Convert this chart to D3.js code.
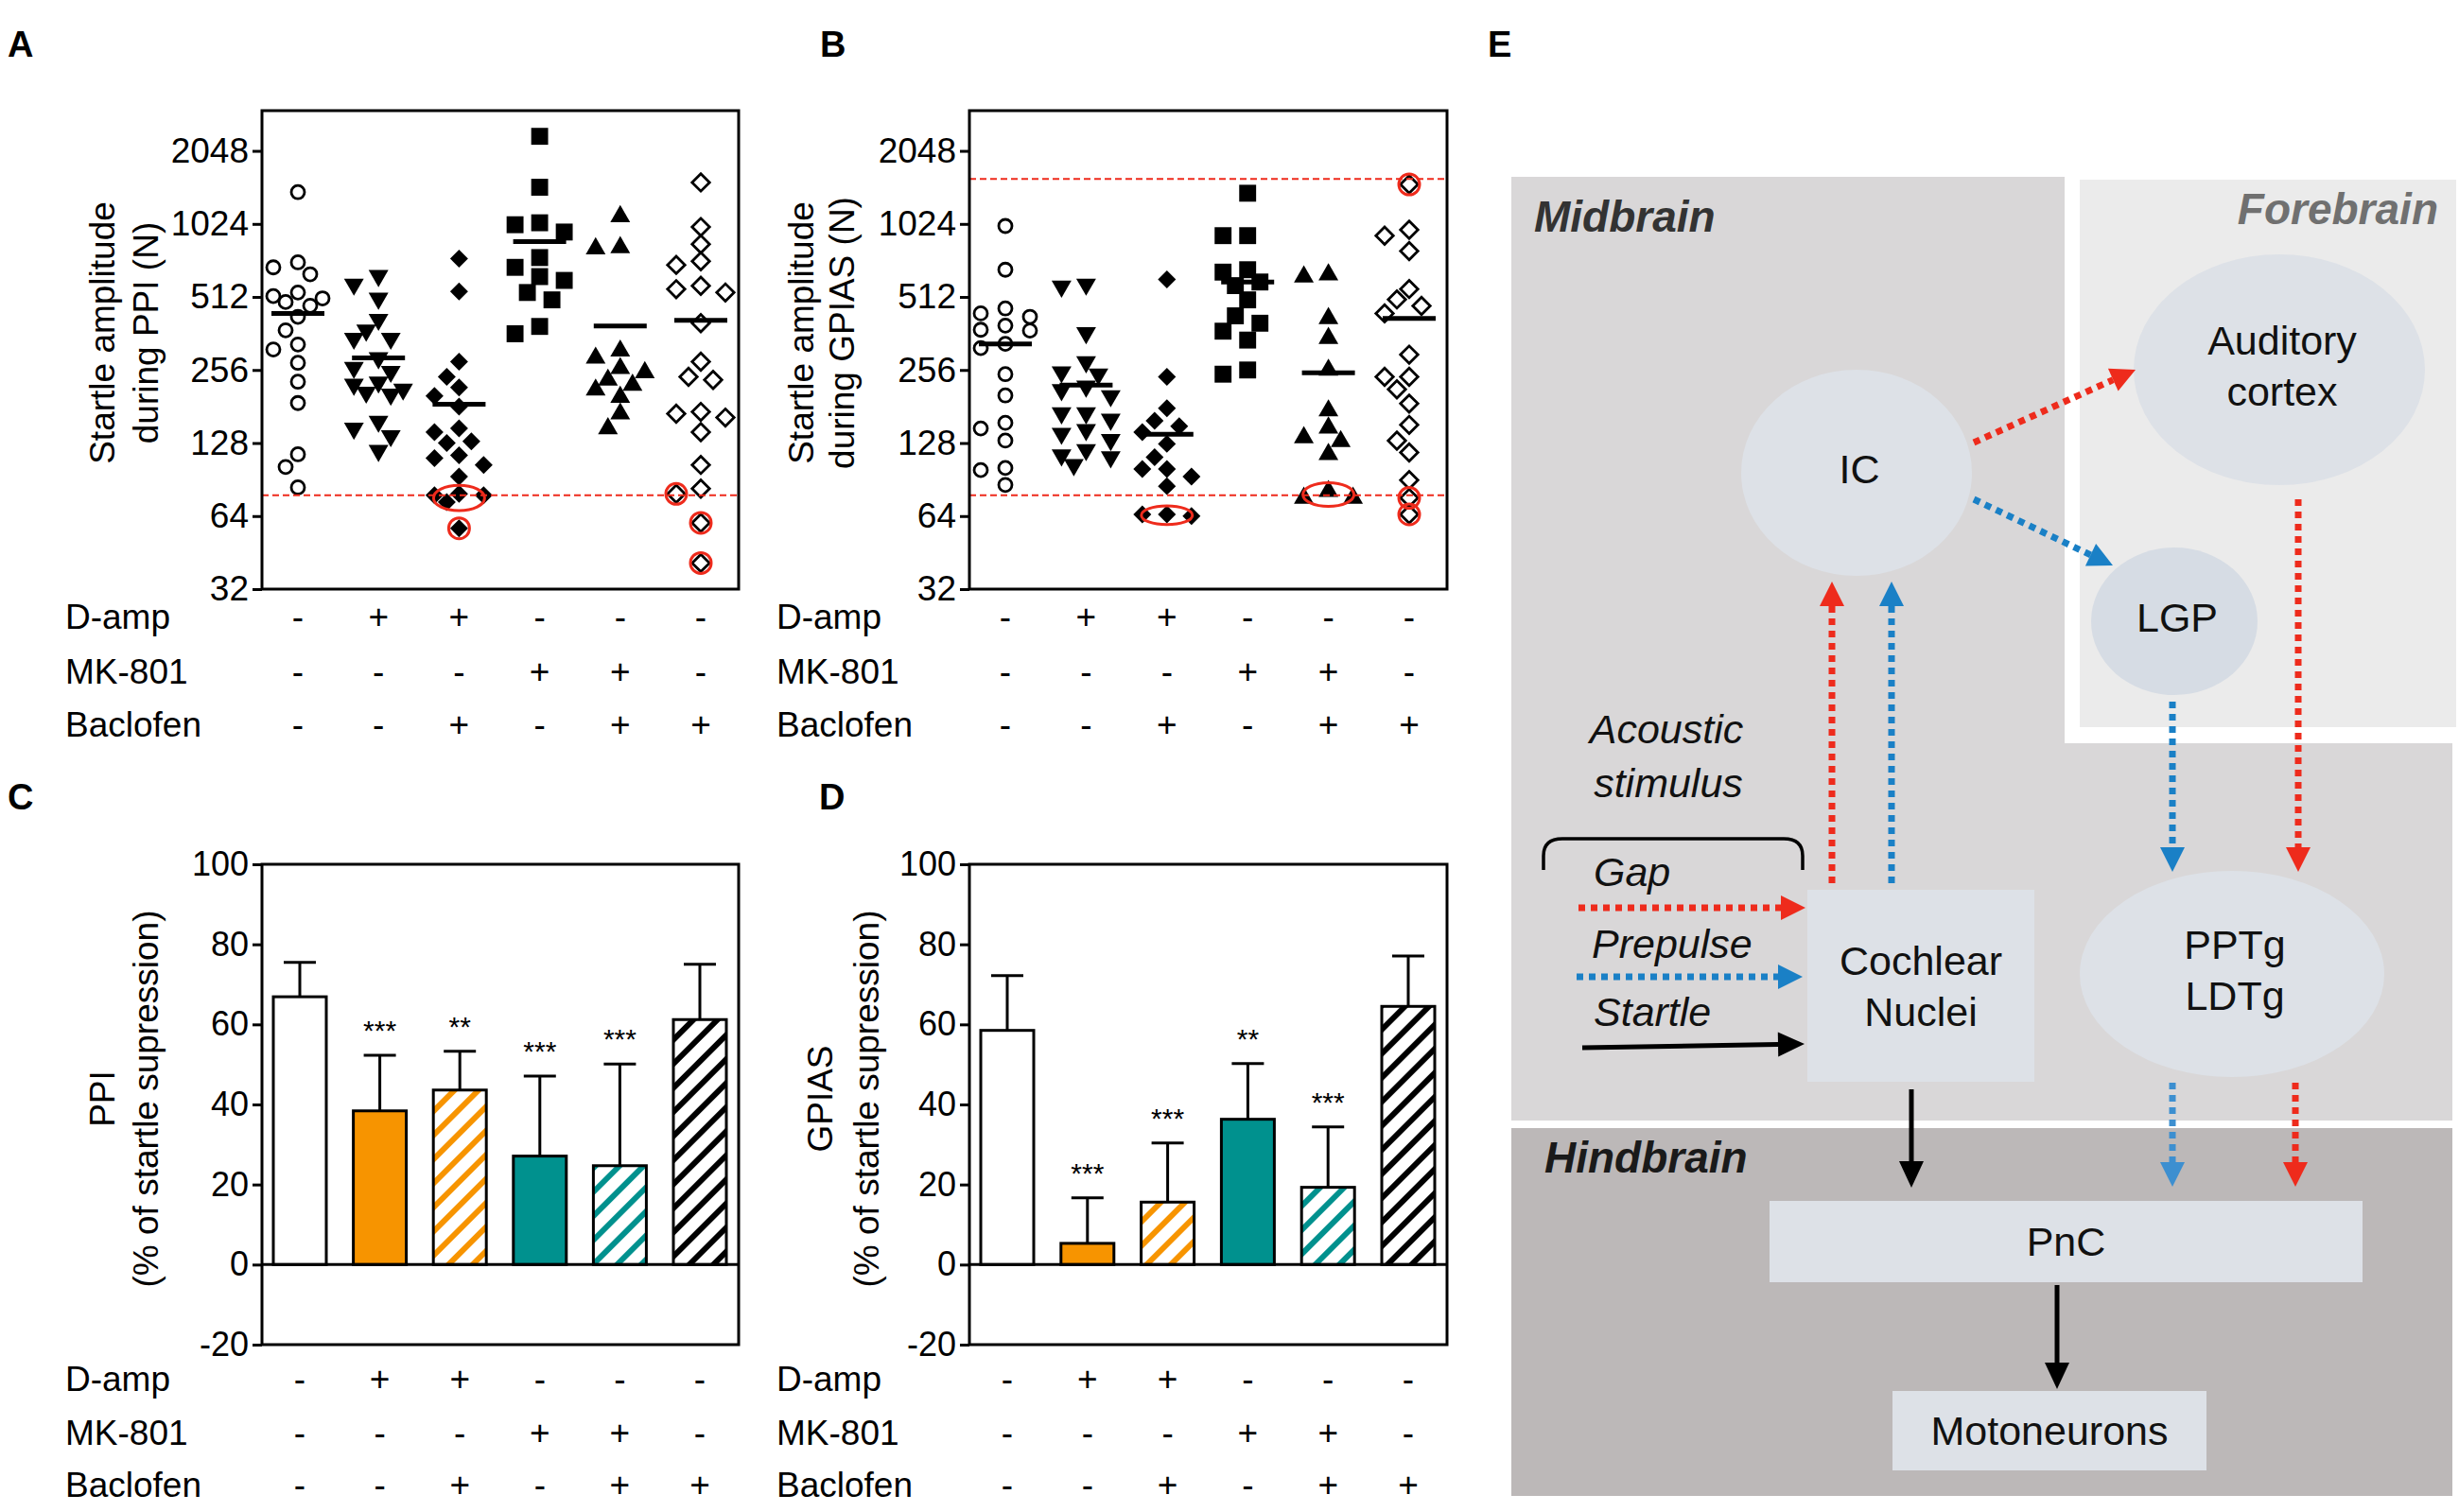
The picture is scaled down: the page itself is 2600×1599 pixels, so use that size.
<!DOCTYPE html>
<html>
<head>
<meta charset="utf-8">
<script src="https://cdn.jsdelivr.net/npm/d3@7"></script>
<style>
  body { margin: 0; background: #fff; }
  svg { font-family: "Liberation Sans", Arial, sans-serif; }
</style>
</head>
<body>
<svg id="fig" width="2600" height="1599"></svg>
<script>
// ---- data ----
const groups = ["ctrl", "damp", "dampBac", "mk", "mkBac", "bac"];
const dAmpRow = ["-", "+", "+", "-", "-", "-"];
const mk801Row = ["-", "-", "-", "+", "+", "-"];
const baclofenRow = ["-", "-", "+", "-", "+", "+"];
const logTicks = [32, 64, 128, 256, 512, 1024, 2048];
const pctTicks = [-20, 0, 20, 40, 60, 80, 100];

// startle amplitude (N) per animal, panel A
const ppiStartle = [
  [1384, 711, 678, 635, 534, 505, 516, 471, 488, 424, 373, 326, 311, 274, 229, 187, 115, 102, 84],
  [626, 577, 505, 413, 373, 345, 345, 287, 262, 252, 228, 223, 213, 207, 203, 157, 147, 137, 119],
  [737, 539, 277, 240, 217, 200, 181, 147, 142, 130, 128, 114, 111, 104, 93, 79, 78, 78, 73, 57],
  [2351, 1450, 1016, 1035, 948, 744, 678, 621, 599, 534, 498, 361, 387],
  [1099, 819, 810, 307, 287, 260, 233, 250, 212, 222, 198, 169, 147],
  [1518, 994, 845, 719, 694, 551, 569, 534, 399, 277, 240, 233, 172, 169, 163, 142, 104, 83, 79, 60, 41]
];
const ppiMean = [438, 287, 185, 866, 389, 410];
const ppiLimits = [78];
// [group index, low value, high value] of red-circled animals
const ppiCircled = [[2, 73, 79], [2, 57, 57], [5, 79, 79], [5, 60, 60], [5, 41, 41]];

// startle amplitude (N) per animal, panel B
const gpiasStartle = [
  [1004, 663, 459, 438, 424, 372, 390, 375, 328, 315, 246, 201, 155, 147, 131, 101, 99, 86],
  [577, 566, 364, 276, 251, 246, 219, 212, 200, 170, 170, 160, 145, 140, 132, 120, 112, 114, 104],
  [605, 240, 178, 158, 150, 142, 127, 112, 100, 100, 93, 85, 65, 65, 64],
  [1370, 916, 916, 663, 648, 590, 570, 498, 428, 399, 370, 340, 246, 256],
  [633, 620, 418, 346, 256, 174, 148, 135, 130, 115, 81, 76, 76],
  [1489, 968, 916, 791, 552, 500, 470, 438, 296, 240, 240, 213, 186, 152, 131, 117, 90, 76, 65]
];
const gpiasMean = [328, 222, 139, 590, 249, 418];
const gpiasLimits = [78, 1570];
const gpiasCircled = [[2, 63, 67], [4, 75, 82], [5, 1489, 1489], [5, 76, 76], [5, 65, 65]];

// % of startle suppression, panels C and D
const ppiPct = [66.9, 38.4, 43.6, 27.1, 24.7, 61.2];
const ppiErr = [8.6, 13.9, 9.7, 20.0, 25.4, 13.8];
const ppiStars = ["", "***", "**", "***", "***", ""];
const gpiasPct = [58.5, 5.3, 15.6, 36.3, 19.3, 64.5];
const gpiasErr = [13.7, 11.4, 14.8, 13.9, 15.1, 12.6];
const gpiasStars = ["", "***", "***", "**", "***", ""];

const orange = "#f79400", teal = "#00918e", red = "#ee2b1c", blue = "#1a80c6";
const barStyle = [
  { fill: "#fff" }, { fill: orange }, { hatch: orange },
  { fill: teal }, { hatch: teal }, { hatch: "#000" }
];
const markerType = ["openCircle", "triDown", "diamond", "square", "triUp", "openDiamond"];

const svg = d3.select("#fig");
const defs = svg.append("defs");

barStyle.forEach((s, i) => {
  if (!s.hatch) return;
  const p = defs.append("pattern")
    .attr("id", "hatch" + i)
    .attr("patternUnits", "userSpaceOnUse")
    .attr("width", 18).attr("height", 18)
    .attr("patternTransform", "rotate(45)");
  p.append("rect").attr("width", 18).attr("height", 18).attr("fill", "#fff");
  p.append("rect").attr("width", 6).attr("height", 18).attr("fill", s.hatch);
});

function letter(t, x, y) {
  svg.append("text").attr("x", x).attr("y", y)
    .attr("font-size", 38).attr("font-weight", "bold").text(t);
}

function treatmentRows(x, labelX, rowY) {
  const rows = [["D-amp", dAmpRow], ["MK-801", mk801Row], ["Baclofen", baclofenRow]];
  rows.forEach(([name, signs], r) => {
    svg.append("text").attr("x", labelX).attr("y", rowY[r])
      .attr("dy", "0.35em").attr("font-size", 37).text(name);
    svg.append("g").selectAll("text").data(groups).join("text")
      .attr("x", d => x(d)).attr("y", rowY[r])
      .attr("dy", "0.35em").attr("text-anchor", "middle")
      .attr("font-size", 37)
      .text((d, i) => signs[i]);
  });
}

function yTitle(lines, xs, cy) {
  lines.forEach((t, i) => {
    svg.append("text")
      .attr("transform", `translate(${xs[i]},${cy}) rotate(-90)`)
      .attr("text-anchor", "middle").attr("dy", "0.35em")
      .attr("font-size", 37).text(t);
  });
}

function styleAxis(g, size) {
  g.select(".domain").remove();
  g.selectAll(".tick line").attr("stroke-width", 3);
  g.selectAll(".tick text").attr("font-size", size)
    .attr("font-family", "Liberation Sans, Arial, sans-serif").attr("fill", "#000");
}

function drawMarker(g, type, cx, cy) {
  if (type === "openCircle") {
    g.append("circle").attr("cx", cx).attr("cy", cy).attr("r", 7)
      .attr("fill", "none").attr("stroke", "#000").attr("stroke-width", 2.8);
    return;
  }
  let sym, rot = 0, fill = "#000", stroke = "none";
  if (type === "triDown") { sym = d3.symbol(d3.symbolTriangle, 190); rot = 180; }
  if (type === "triUp") { sym = d3.symbol(d3.symbolTriangle, 190); }
  if (type === "square") { sym = d3.symbol(d3.symbolSquare, 320); }
  if (type === "diamond") { sym = d3.symbol(d3.symbolSquare, 180); rot = 45; }
  if (type === "openDiamond") { sym = d3.symbol(d3.symbolSquare, 170); rot = 45; fill = "none"; stroke = "#000"; }
  g.append("path").attr("d", sym())
    .attr("transform", `translate(${cx},${cy}) rotate(${rot})`)
    .attr("fill", fill).attr("stroke", stroke).attr("stroke-width", 2.8);
}

// simple dodge so that animals with similar values sit side by side
function swarm(vals, cx, y) {
  const step = 13, minD = 17;
  const placed = [];
  vals.map((v, i) => ({ v, i })).sort((a, b) => b.v - a.v).forEach(p => {
    const py = y(p.v);
    const offs = [0, -step, step, -2 * step, 2 * step];
    let best = null, bestD = -1;
    for (const o of offs) {
      const d = d3.min(placed, q => Math.hypot(q.x - (cx + o), q.y - py));
      const dd = d === undefined ? Infinity : d;
      if (dd >= minD) { best = o; break; }
      if (dd > bestD) { bestD = dd; best = o; }
    }
    placed.push({ v: p.v, x: cx + best, y: py });
  });
  return placed;
}

function scatterPanel(o) {
  const x = d3.scalePoint().domain(groups).range([o.x0 + 38, o.x1 - 40]);
  const y = d3.scaleLog().base(2).domain([32, 3000]).range([o.y1, o.y0]);
  const g = svg.append("g");

  o.values.forEach((vals, gi) => {
    const pts = swarm(vals, x(groups[gi]), y);
    pts.forEach(p => drawMarker(g, markerType[gi], p.x, p.y));
    g.append("line")
      .attr("x1", x(groups[gi]) - 28).attr("x2", x(groups[gi]) + 28)
      .attr("y1", y(o.means[gi])).attr("y2", y(o.means[gi]))
      .attr("stroke", "#000").attr("stroke-width", 5);
    o.circled.filter(c => c[0] === gi).forEach(c => {
      const sel = pts.filter(p => p.v >= c[1] && p.v <= c[2]);
      const [xa, xb] = d3.extent(sel, p => p.x);
      const [ya, yb] = d3.extent(sel, p => p.y);
      if (sel.length === 1) {
        g.append("circle").attr("cx", xa).attr("cy", ya).attr("r", 11)
          .attr("fill", "none").attr("stroke", red).attr("stroke-width", 3);
      } else {
        g.append("ellipse").attr("cx", (xa + xb) / 2).attr("cy", (ya + yb) / 2)
          .attr("rx", Math.min((xb - xa) / 2 + 10, 27)).attr("ry", (yb - ya) / 2 + 9)
          .attr("fill", "none").attr("stroke", red).attr("stroke-width", 3);
      }
    });
  });

  o.limits.forEach(l => {
    svg.append("line").attr("x1", o.x0).attr("x2", o.x1)
      .attr("y1", y(l)).attr("y2", y(l))
      .attr("stroke", red).attr("stroke-width", 2).attr("stroke-dasharray", "7,4");
  });

  svg.append("rect").attr("x", o.x0).attr("y", o.y0)
    .attr("width", o.x1 - o.x0).attr("height", o.y1 - o.y0)
    .attr("fill", "none").attr("stroke", "#000").attr("stroke-width", 3);

  svg.append("g").attr("transform", `translate(${o.x0},0)`)
    .call(d3.axisLeft(y).tickValues(logTicks).tickFormat(d => String(d)).tickSize(10).tickPadding(4))
    .call(g => styleAxis(g, 37));

  yTitle(o.title, o.titleX, 352);
  treatmentRows(x, o.labelX, [652, 710, 766]);
}

function barPanel(o) {
  const x = d3.scalePoint().domain(groups).range([o.x0 + 40, o.x1 - 41]);
  const y = d3.scaleLinear().domain([-20, 100]).range([o.y1, o.y0]);
  const bw = 56;
  const g = svg.append("g");

  groups.forEach((k, i) => {
    const top = y(o.pct[i] + o.err[i]);
    g.append("line").attr("x1", x(k)).attr("x2", x(k))
      .attr("y1", y(o.pct[i])).attr("y2", top)
      .attr("stroke", "#000").attr("stroke-width", 3);
    g.append("line").attr("x1", x(k) - 17).attr("x2", x(k) + 17)
      .attr("y1", top).attr("y2", top)
      .attr("stroke", "#000").attr("stroke-width", 3);
    const s = barStyle[i];
    g.append("rect")
      .attr("x", x(k) - bw / 2).attr("y", y(o.pct[i]))
      .attr("width", bw).attr("height", y(0) - y(o.pct[i]))
      .attr("fill", s.hatch ? `url(#hatch${i})` : s.fill)
      .attr("stroke", "#000").attr("stroke-width", 3);
    g.append("text").attr("x", x(k)).attr("y", top - 16)
      .attr("text-anchor", "middle").attr("font-size", 30).text(o.stars[i]);
  });

  svg.append("line").attr("x1", o.x0).attr("x2", o.x1)
    .attr("y1", y(0)).attr("y2", y(0)).attr("stroke", "#000").attr("stroke-width", 3);
  svg.append("rect").attr("x", o.x0).attr("y", o.y0)
    .attr("width", o.x1 - o.x0).attr("height", o.y1 - o.y0)
    .attr("fill", "none").attr("stroke", "#000").attr("stroke-width", 3);

  svg.append("g").attr("transform", `translate(${o.x0},0)`)
    .call(d3.axisLeft(y).tickValues(pctTicks).tickFormat(d => String(d)).tickSize(10).tickPadding(4))
    .call(g => styleAxis(g, 36));

  yTitle(o.title, o.titleX, 1162);
  treatmentRows(x, o.labelX, [1458, 1515, 1570]);
}

letter("A", 8, 60);
letter("B", 867, 60);
letter("C", 8, 856);
letter("D", 866, 856);
letter("E", 1573, 60);

scatterPanel({ x0: 277, x1: 781, y0: 117, y1: 623, values: ppiStartle, means: ppiMean,
  limits: ppiLimits, circled: ppiCircled, title: ["Startle amplitude", "during PPI (N)"],
  titleX: [108, 154], labelX: 69 });
scatterPanel({ x0: 1025, x1: 1530, y0: 117, y1: 623, values: gpiasStartle, means: gpiasMean,
  limits: gpiasLimits, circled: gpiasCircled, title: ["Startle amplitude", "during GPIAS (N)"],
  titleX: [847, 890], labelX: 821 });
barPanel({ x0: 277, x1: 781, y0: 914, y1: 1422, pct: ppiPct, err: ppiErr, stars: ppiStars,
  title: ["PPI", "(% of startle supression)"], titleX: [108, 154], labelX: 69 });
barPanel({ x0: 1025, x1: 1530, y0: 914, y1: 1422, pct: gpiasPct, err: gpiasErr, stars: gpiasStars,
  title: ["GPIAS", "(% of startle supression)"], titleX: [867, 916], labelX: 821 });

// ---- panel E: circuit diagram ----
const regions = [
  { x: 1598, y: 187, w: 585, h: 998, fill: "#d9d7d8" },
  { x: 1598, y: 786, w: 995, h: 399, fill: "#d9d7d8" },
  { x: 2199, y: 190, w: 398, h: 579, fill: "#ebebeb" },
  { x: 1598, y: 1193, w: 995, h: 389, fill: "#bcb8b8" }
];
const regionLabels = [
  { t: "Midbrain", x: 1622, y: 245, anchor: "start", fill: "#333" },
  { t: "Forebrain", x: 2578, y: 237, anchor: "end", fill: "#707070" },
  { t: "Hindbrain", x: 1633, y: 1240, anchor: "start", fill: "#1a1a1a" }
];
const ovals = [
  { cx: 1963, cy: 500, rx: 122, ry: 109, fill: "#dde1e7", lines: ["IC"] },
  { cx: 2410, cy: 391, rx: 154, ry: 122, fill: "#dde1e7", lines: ["Auditory", "cortex"] },
  { cx: 2299, cy: 657, rx: 88, ry: 78, fill: "#d6dce4", lines: ["LGP"] },
  { cx: 2360, cy: 1030, rx: 161, ry: 109, fill: "#dde1e7", lines: ["PPTg", "LDTg"] }
];
const boxes = [
  { x: 1911, y: 941, w: 240, h: 203, lines: ["Cochlear", "Nuclei"] },
  { x: 1871, y: 1270, w: 627, h: 86, lines: ["PnC"] },
  { x: 2001, y: 1471, w: 332, h: 84, lines: ["Motoneurons"] }
];
const arrows = [
  { a: [2087, 468], b: [2258, 391], c: red, dot: true },
  { a: [2087, 528], b: [2234, 598], c: blue, dot: true },
  { a: [1937, 934], b: [1937, 615], c: red, dot: true },
  { a: [2000, 934], b: [2000, 615], c: blue, dot: true },
  { a: [2297, 742], b: [2297, 922], c: blue, dot: true },
  { a: [2430, 528], b: [2430, 922], c: red, dot: true },
  { a: [2297, 1145], b: [2297, 1255], c: "#3d8fd0", dot: true },
  { a: [2427, 1145], b: [2427, 1255], c: red, dot: true },
  { a: [2021, 1152], b: [2021, 1256], c: "#000", dot: false },
  { a: [2175, 1359], b: [2175, 1469], c: "#000", dot: false },
  { a: [1669, 960], b: [1909, 960], c: red, dot: true },
  { a: [1667, 1033], b: [1906, 1033], c: blue, dot: true },
  { a: [1673, 1108], b: [1908, 1104], c: "#000", dot: false }
];
const stimulusLabels = [
  { t: "Acoustic", x: 1762, y: 786, anchor: "middle" },
  { t: "stimulus", x: 1764, y: 843, anchor: "middle" },
  { t: "Gap", x: 1685, y: 937, anchor: "start" },
  { t: "Prepulse", x: 1683, y: 1013, anchor: "start" },
  { t: "Startle", x: 1685, y: 1085, anchor: "start" }
];

const E = svg.append("g");
E.selectAll("rect.region").data(regions).join("rect").attr("class", "region")
  .attr("x", d => d.x).attr("y", d => d.y).attr("width", d => d.w).attr("height", d => d.h)
  .attr("fill", d => d.fill);
E.selectAll("text.region").data(regionLabels).join("text").attr("class", "region")
  .attr("x", d => d.x).attr("y", d => d.y).attr("text-anchor", d => d.anchor)
  .attr("font-size", 46).attr("font-weight", "bold").attr("font-style", "italic")
  .attr("fill", d => d.fill).text(d => d.t);

E.selectAll("ellipse").data(ovals).join("ellipse")
  .attr("cx", d => d.cx).attr("cy", d => d.cy).attr("rx", d => d.rx).attr("ry", d => d.ry)
  .attr("fill", d => d.fill);
E.selectAll("rect.box").data(boxes).join("rect").attr("class", "box")
  .attr("x", d => d.x).attr("y", d => d.y).attr("width", d => d.w).attr("height", d => d.h)
  .attr("fill", "#dde1e7");

function centredLines(d, cx, cy) {
  const n = d.lines.length, lh = 54;
  d.lines.forEach((t, i) => {
    E.append("text").attr("x", cx).attr("y", cy + (i - (n - 1) / 2) * lh)
      .attr("dy", "0.36em").attr("text-anchor", "middle")
      .attr("font-size", 43).attr("fill", "#111").text(t);
  });
}
ovals.forEach(d => centredLines(d, d.cx + 3, d.cy - 4));
boxes.forEach(d => centredLines(d, d.x + d.w / 2, d.y + d.h / 2));

arrows.forEach(d => {
  const [x1, y1] = d.a, [x2, y2] = d.b;
  const ang = Math.atan2(y2 - y1, x2 - x1);
  const L = d.dot ? 26 : 28, hw = 13;
  const bx = x2 - L * Math.cos(ang), by = y2 - L * Math.sin(ang);
  E.append("line").attr("x1", x1).attr("y1", y1).attr("x2", bx).attr("y2", by)
    .attr("stroke", d.c).attr("stroke-width", d.dot ? 7 : 5)
    .attr("stroke-dasharray", d.dot ? "7,6" : null);
  const px = -Math.sin(ang) * hw, py = Math.cos(ang) * hw;
  E.append("path")
    .attr("d", `M${x2},${y2}L${bx + px},${by + py}L${bx - px},${by - py}Z`)
    .attr("fill", d.c);
});

// bracket grouping the stimuli
E.append("path")
  .attr("d", "M1632,920 L1632,905 Q1632,887 1652,887 L1886,887 Q1906,887 1906,905 L1906,920")
  .attr("fill", "none").attr("stroke", "#000").attr("stroke-width", 3.5);

E.selectAll("text.stim").data(stimulusLabels).join("text").attr("class", "stim")
  .attr("x", d => d.x).attr("y", d => d.y).attr("text-anchor", d => d.anchor)
  .attr("font-size", 43).attr("font-style", "italic").attr("fill", "#111").text(d => d.t);
</script>
</body>
</html>
